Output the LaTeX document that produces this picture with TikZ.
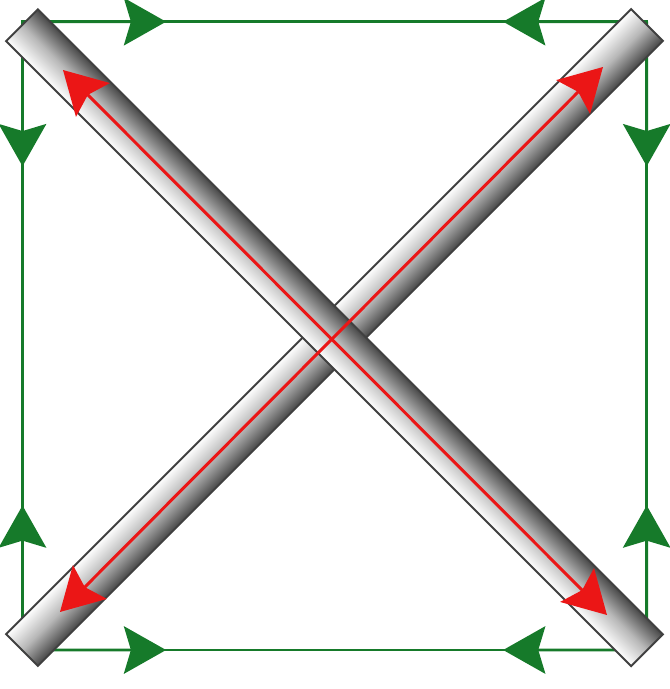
\documentclass[tikz,border=0pt]{standalone}
\usetikzlibrary{arrows.meta,calc}
\definecolor{flowgreen}{RGB}{22,122,42}
\definecolor{rodred}{RGB}{235,22,22}

\begin{document}
\begin{tikzpicture}[x=0.02cm,y=-0.02cm,
  >={Stealth[length=24pt,width=27pt,inset=4pt]},
  flow/.style={draw=flowgreen,line width=1.5pt},
  rod/.style={draw=black!75,line width=1.1pt,middle color=black!28},
  axis/.style={draw=rodred,line width=1.7pt}]
\useasboundingbox (0,0) rectangle (669,689);
% ---- 外框：四角与回路 ----
\coordinate (tl) at (22.5,21.7);
\coordinate (tr) at (646.7,21.7);
\coordinate (br) at (646.7,650);
\coordinate (bl) at (22.5,650);
\draw[flow] (tl) -- (tr) -- (br) -- (bl) -- cycle;
% 每条边上两个箭头，从角指向边的中点
\foreach \c/\d in {tl/tr,tl/bl,tr/tl,tr/br,bl/br,bl/tl,br/bl,br/tr}{
  \draw[flow,->] (\c) -- ($(\c)!0.23!(\d)$);}
% ---- 两根棒，左上-右下那根在上面 ----
\begin{scope}[transform canvas={shift={(334.5,337.5)},rotate=45}]
  \shade[rod,top color=white,bottom color=black!72,middle color=black!28] (-442,-22.5) rectangle (442,22.5);
\end{scope}
\begin{scope}[transform canvas={shift={(334.5,337.75)},rotate=-45}]
  \shade[rod,top color=black!72,bottom color=white,middle color=black!28] (-442,-22.5) rectangle (442,22.5);
\end{scope}
% ---- 棒内的双向红箭头 ----
\coordinate (a1) at (63,70);
\coordinate (a2) at (607,615);
\coordinate (b1) at (60,612);
\coordinate (b2) at (603,67);
\draw[axis,<->] (a1) -- (a2);
\draw[axis,<->] (b1) -- (b2);
\end{tikzpicture}
\end{document}
